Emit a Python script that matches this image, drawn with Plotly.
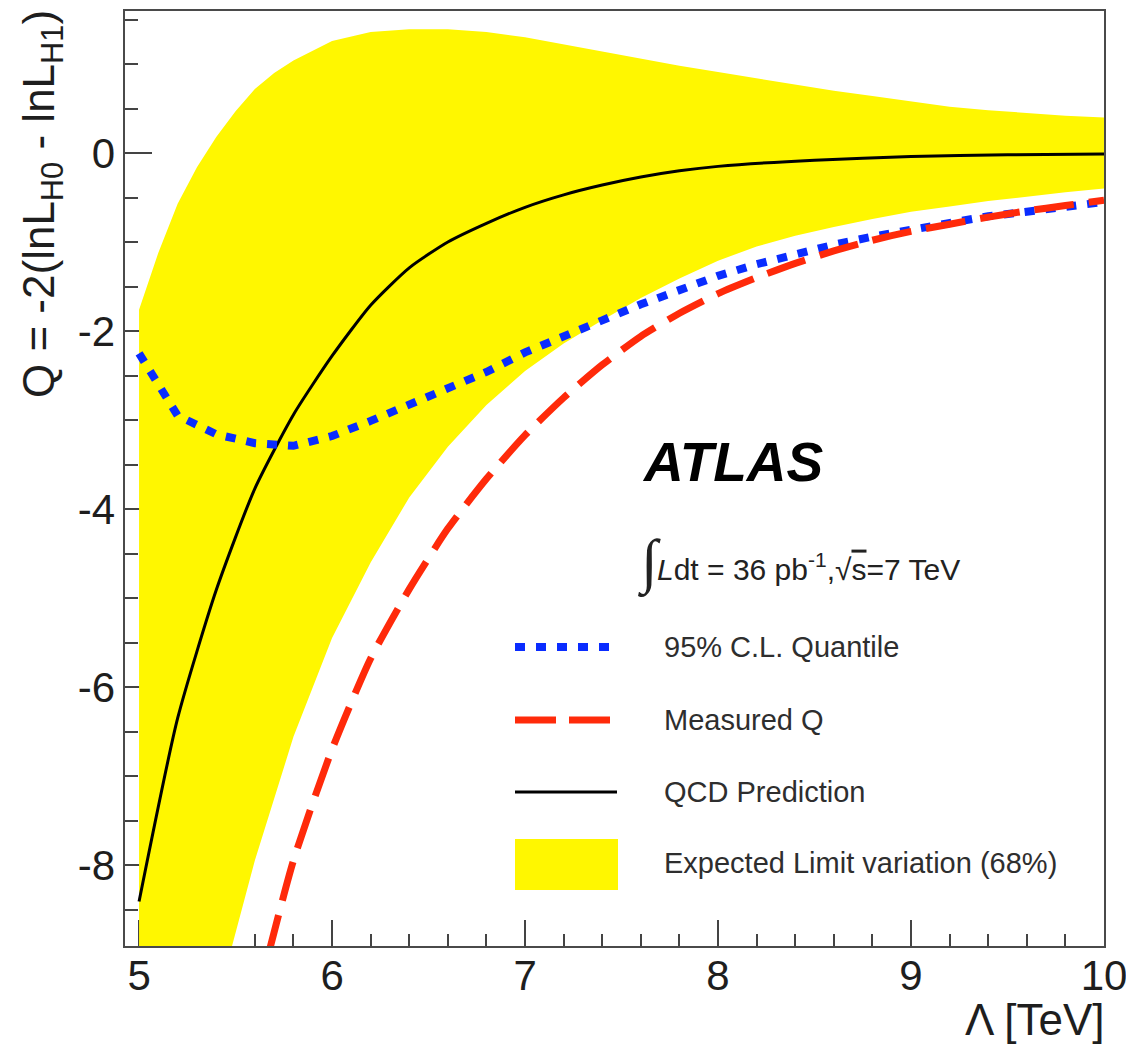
import plotly.graph_objects as go

# ---------------- data ----------------
lam_qcd = [5.0, 5.2, 5.4, 5.6, 5.8, 6.0, 6.2, 6.4, 6.6, 6.8, 7.0, 7.2, 7.4, 7.6, 7.8, 8.0, 8.5, 9.0, 9.5, 10.0]
q_qcd = [-8.41, -6.35, -4.91, -3.77, -2.94, -2.28, -1.71, -1.29, -1.00, -0.79, -0.61, -0.47, -0.36, -0.27,
         -0.20, -0.15, -0.08, -0.04, -0.02, -0.01]

lam_quant = [5.0, 5.2, 5.4, 5.6, 5.8, 6.0, 6.2, 6.4, 6.6, 6.8, 7.0, 7.2, 7.4, 7.6, 7.8, 8.0, 8.2, 8.4, 8.6,
             8.8, 9.0, 9.2, 9.4, 9.6, 9.8, 10.0]
q_quant = [-2.25, -2.95, -3.16, -3.26, -3.29, -3.18, -3.01, -2.83, -2.65, -2.46, -2.24, -2.07, -1.88, -1.70,
           -1.53, -1.38, -1.25, -1.13, -1.03, -0.94, -0.86, -0.78, -0.71, -0.66, -0.60, -0.55]

lam_meas = [5.6, 5.8, 6.0, 6.2, 6.4, 6.6, 6.8, 7.0, 7.2, 7.4, 7.6, 7.8, 8.0, 8.2, 8.4, 8.6, 8.8, 9.0, 9.2,
            9.4, 9.6, 9.8, 10.0]
q_meas = [-9.6, -7.95, -6.70, -5.68, -4.90, -4.22, -3.66, -3.17, -2.75, -2.38, -2.06, -1.80, -1.58, -1.40,
          -1.24, -1.10, -0.98, -0.88, -0.80, -0.72, -0.65, -0.59, -0.53]

lam_band_up = [5.0, 5.1, 5.2, 5.3, 5.4, 5.5, 5.6, 5.7, 5.8, 6.0, 6.2, 6.4, 6.6, 6.8, 7.0, 7.2, 7.4, 7.6, 7.8,
               8.0, 8.2, 8.4, 8.6, 8.8, 9.0, 9.2, 9.4, 9.6, 9.8, 10.0]
q_band_up = [-1.76, -1.12, -0.57, -0.16, 0.18, 0.47, 0.72, 0.90, 1.04, 1.26, 1.36, 1.39, 1.39, 1.36, 1.30,
             1.22, 1.14, 1.06, 0.98, 0.91, 0.84, 0.77, 0.70, 0.64, 0.58, 0.52, 0.48, 0.45, 0.42, 0.40]

lam_band_lo = [5.0, 5.2, 5.4, 5.6, 5.8, 6.0, 6.2, 6.4, 6.6, 6.8, 7.0, 7.2, 7.4, 7.6, 7.8, 8.0, 8.2, 8.4, 8.6,
               8.8, 9.0, 9.2, 9.4, 9.6, 9.8, 10.0]
q_band_lo = [-13.0, -11.2, -9.55, -7.95, -6.56, -5.45, -4.60, -3.87, -3.30, -2.83, -2.45, -2.14, -1.88, -1.63,
             -1.41, -1.21, -1.05, -0.93, -0.83, -0.74, -0.66, -0.60, -0.54, -0.49, -0.44, -0.40]

x_tickvals = [5, 6, 7, 8, 9, 10]
x_ticktext = ["5", "6", "7", "8", "9", "10"]
y_tickvals = [-8, -6, -4, -2, 0]
y_ticktext = ["-8", "-6", "-4", "-2", "0"]

legend_labels = ["95% C.L. Quantile", "Measured Q", "QCD Prediction", "Expected Limit variation (68%)"]

# ---------------- layout geometry ----------------
W, H = 1126, 1048
ML, MR, MT, MB = 124, 21, 10, 101
PW, PH = W - ML - MR, H - MT - MB

def pxx(px):
    return (px - ML) / PW

def pxy(py):
    return (H - MB - py) / PH

YELLOW = "#fff700"
BLUE = "#0a2cff"
RED = "#ff2a0a"
FONT = "Liberation Sans, Arial, Helvetica, sans-serif"
TXT = "#1e1e1e"

fig = go.Figure()

band_x = lam_band_up + lam_band_lo[::-1]
band_y = q_band_up + q_band_lo[::-1]
fig.add_trace(go.Scatter(x=band_x, y=band_y, fill="toself", fillcolor=YELLOW,
                         line=dict(width=0, color=YELLOW),
                         mode="lines", hoverinfo="skip", showlegend=False))
fig.add_trace(go.Scatter(x=lam_qcd, y=q_qcd, mode="lines",
                         line=dict(color="black", width=3, shape="spline", smoothing=0.6),
                         showlegend=False))
fig.add_trace(go.Scatter(x=lam_quant, y=q_quant, mode="lines",
                         line=dict(color=BLUE, width=8, dash="10px,11px"), showlegend=False))
fig.add_trace(go.Scatter(x=lam_meas, y=q_meas, mode="lines",
                         line=dict(color=RED, width=7, dash="40px,15px", shape="spline", smoothing=0.6),
                         showlegend=False))

# ---------------- legend (drawn manually, ROOT style) ----------------
rows_py = [647, 720, 792, 863]
shapes = []
shapes.append(dict(type="line", xref="paper", yref="paper", x0=pxx(515), x1=pxx(613),
                   y0=pxy(rows_py[0]), y1=pxy(rows_py[0]),
                   line=dict(color=BLUE, width=8, dash="10px,11px")))
shapes.append(dict(type="line", xref="paper", yref="paper", x0=pxx(515), x1=pxx(613),
                   y0=pxy(rows_py[1]), y1=pxy(rows_py[1]),
                   line=dict(color=RED, width=7, dash="41px,13px")))
shapes.append(dict(type="line", xref="paper", yref="paper", x0=pxx(515), x1=pxx(617),
                   y0=pxy(rows_py[2]), y1=pxy(rows_py[2]),
                   line=dict(color="black", width=3)))
shapes.append(dict(type="rect", xref="paper", yref="paper", x0=pxx(515), x1=pxx(618),
                   y0=pxy(890), y1=pxy(839), fillcolor=YELLOW, line=dict(width=0)))
# frame
shapes.append(dict(type="rect", xref="paper", yref="paper", x0=0, x1=1, y0=0, y1=1,
                   line=dict(color="#4a4a4a", width=2), layer="above"))

annotations = []
for lab, py in zip(legend_labels, rows_py):
    annotations.append(dict(text=lab, xref="paper", yref="paper", x=pxx(662), y=pxy(py),
                            xanchor="left", yanchor="middle", showarrow=False,
                            font=dict(family=FONT, size=29, color="#2e2e2e")))

annotations.append(dict(text="<b><i>ATLAS</i></b>", xref="paper", yref="paper", x=pxx(640), y=pxy(462),
                        xanchor="left", yanchor="middle", showarrow=False,
                        font=dict(family=FONT, size=55, color="black")))
annotations.append(dict(text="∫", xref="paper", yref="paper", x=pxx(636), y=pxy(563),
                        xanchor="left", yanchor="middle", showarrow=False,
                        font=dict(family="Liberation Serif, Times New Roman, serif", size=60, color="#222222")))
annotations.append(dict(text="<i>L</i>dt = 36 pb<sup>-1</sup>,√<span style='text-decoration:overline'>s</span>=7 TeV",
                        xref="paper", yref="paper", x=pxx(655), y=pxy(567),
                        xanchor="left", yanchor="middle", showarrow=False,
                        font=dict(family=FONT, size=30, color="#222222")))

# axis titles
annotations.append(dict(text="Q = -2(lnL<sub>H0</sub> - lnL<sub>H1</sub>)", xref="paper", yref="paper",
                        x=pxx(42), y=pxy(8), xanchor="center", yanchor="top", textangle=-90,
                        showarrow=False, font=dict(family=FONT, size=44, color=TXT)))
annotations.append(dict(text="Λ [TeV]", xref="paper", yref="paper",
                        x=pxx(1106), y=pxy(1019), xanchor="right", yanchor="middle",
                        showarrow=False, font=dict(family=FONT, size=44, color=TXT)))

fig.update_layout(
    width=W, height=H,
    margin=dict(l=ML, r=MR, t=MT, b=MB, pad=0, autoexpand=False),
    paper_bgcolor="white", plot_bgcolor="white",
    shapes=shapes, annotations=annotations,
    showlegend=False,
    xaxis=dict(range=[4.922, 10.005], tickmode="array", tickvals=x_tickvals, ticktext=x_ticktext,
               ticks="inside", ticklen=27, tickwidth=2, tickcolor="#444444",
               minor=dict(ticks="inside", dtick=0.2, tick0=5, ticklen=13, tickwidth=2, tickcolor="#444444"),
               showgrid=False, zeroline=False, showline=False, layer="below traces",
               ticklabeloverflow="allow", automargin=False,
               tickfont=dict(family=FONT, size=42, color=TXT), ticklabelstandoff=0),
    yaxis=dict(range=[-8.921, 1.607], tickmode="array", tickvals=y_tickvals, ticktext=y_ticktext,
               ticks="inside", ticklen=28, tickwidth=2, tickcolor="#444444",
               minor=dict(ticks="inside", dtick=0.5, tick0=0, ticklen=14, tickwidth=2, tickcolor="#444444"),
               showgrid=False, zeroline=False, showline=False, layer="below traces",
               ticklabeloverflow="allow", automargin=False,
               tickfont=dict(family=FONT, size=42, color=TXT), ticklabelstandoff=8),
)

fig.write_html("out.html")
